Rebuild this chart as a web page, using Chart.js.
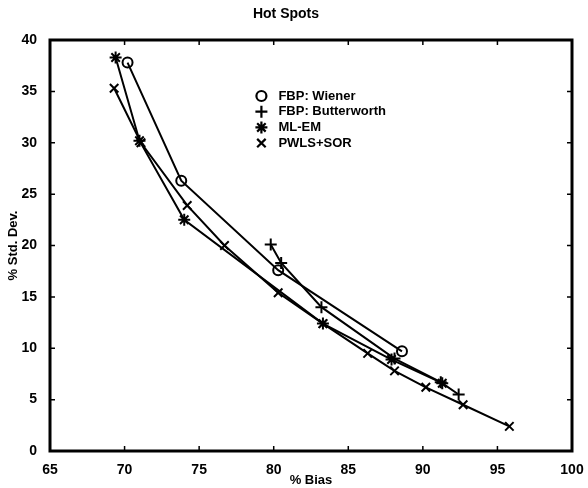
<!DOCTYPE html>
<html>
<head>
<meta charset="utf-8">
<script src="https://cdn.jsdelivr.net/npm/chart.js@4.4.0/dist/chart.umd.min.js"></script>
<style>
  html, body { margin: 0; padding: 0; background: #fff; }
  #wrap { width: 588px; height: 488px; }
</style>
</head>
<body>
<div id="wrap"><canvas id="chart" width="588" height="488"></canvas></div>
<script>
    // Values (x = % Bias, y = % Std. Dev.)
    const wienerBias = [70.2, 73.8, 80.3, 88.6];
    const wienerStd  = [37.8, 26.3, 17.6, 9.7];

    const butterBias = [79.8, 80.5, 83.2, 88.1, 91.2, 92.4];
    const butterStd  = [20.1, 18.3, 14.0, 9.0, 6.7, 5.5];

    const mlemBias = [69.4, 71.0, 74.0, 83.3, 87.9, 91.3];
    const mlemStd  = [38.3, 30.2, 22.5, 12.4, 8.9, 6.6];

    const pwlsBias = [69.3, 71.1, 74.2, 76.7, 80.3, 83.3, 86.3, 88.1, 90.2, 92.7, 95.8];
    const pwlsStd  = [35.3, 30.0, 23.9, 20.0, 15.4, 12.4, 9.5, 7.8, 6.2, 4.5, 2.4];

    const seriesLabels = ['FBP: Wiener', 'FBP: Butterworth', 'ML-EM', 'PWLS+SOR'];
    const pointStyles = ['circle', 'cross', 'star', 'crossRot'];

    const FONT = "'Liberation Sans', Arial, sans-serif";

    /**
     * Zips two arrays into {x, y} points.
     */
    function toPoints(xs, ys) {
        return xs.map((x, i) => ({ x: x, y: ys[i] }));
    }

    function makeDataset(label, xs, ys, style) {
        return {
            label: label,
            data: toPoints(xs, ys),
            showLine: true,
            borderColor: '#000',
            backgroundColor: 'rgba(0,0,0,0)',
            borderWidth: 2,
            pointStyle: style,
            pointRadius: style === 'circle' ? 5 : 6,
            pointBorderWidth: 2,
            pointBorderColor: '#000',
            pointBackgroundColor: 'rgba(0,0,0,0)',
            tension: 0
        };
    }

    // Frame with inward tick marks on all four sides (MATLAB style)
    const frameTicks = {
        id: 'frameTicks',
        afterDraw(chart) {
            const { ctx, chartArea: a, scales } = chart;
            const len = 5;
            ctx.save();
            ctx.strokeStyle = '#000';
            ctx.lineWidth = 1.5;
            scales.x.ticks.forEach(t => {
                const px = scales.x.getPixelForValue(t.value);
                ctx.beginPath();
                ctx.moveTo(px, a.bottom); ctx.lineTo(px, a.bottom - len);
                ctx.moveTo(px, a.top); ctx.lineTo(px, a.top + len);
                ctx.stroke();
            });
            scales.y.ticks.forEach(t => {
                const py = scales.y.getPixelForValue(t.value);
                ctx.beginPath();
                ctx.moveTo(a.left, py); ctx.lineTo(a.left + len, py);
                ctx.moveTo(a.right, py); ctx.lineTo(a.right - len, py);
                ctx.stroke();
            });
            ctx.lineWidth = 3;
            ctx.strokeRect(a.left, a.top, a.right - a.left, a.bottom - a.top);
            ctx.restore();
        }
    };

    // Marker-only legend drawn inside the plot area
    const innerLegend = {
        id: 'innerLegend',
        afterDraw(chart) {
            const { ctx, chartArea: a } = chart;
            const x0 = a.left + (a.right - a.left) * 0.405;
            const y0 = a.top + 56;
            const rowH = 15.7;
            ctx.save();
            ctx.textBaseline = 'middle';
            chart.data.datasets.forEach((ds, i) => {
                const y = y0 + i * rowH;
                ctx.strokeStyle = '#000';
                ctx.fillStyle = 'rgba(0,0,0,0)';
                ctx.lineWidth = 2.2;
                Chart.helpers.drawPoint(ctx, { pointStyle: ds.pointStyle, radius: ds.pointStyle === 'circle' ? 5 : 6, borderWidth: 2.2 }, x0, y);
                ctx.font = 'bold 13px ' + FONT;
                ctx.fillStyle = '#000';
                ctx.fillText(ds.label, x0 + 17, y);
            });
            ctx.restore();
        }
    };

    const datasets = [
        makeDataset(seriesLabels[0], wienerBias, wienerStd, pointStyles[0]),
        makeDataset(seriesLabels[1], butterBias, butterStd, pointStyles[1]),
        makeDataset(seriesLabels[2], mlemBias, mlemStd, pointStyles[2]),
        makeDataset(seriesLabels[3], pwlsBias, pwlsStd, pointStyles[3])
    ];

    new Chart(document.getElementById('chart').getContext('2d'), {
        type: 'scatter',
        data: { datasets: datasets },
        options: {
            responsive: false,
            animation: false,
            layout: { padding: { left: 0, right: 16, top: 0, bottom: 0 } },
            plugins: {
                legend: { display: false },
                tooltip: { enabled: false },
                title: {
                    display: true,
                    text: 'Hot Spots',
                    color: '#000',
                    font: { family: FONT, size: 14, weight: 'bold' },
                    padding: { top: 6, bottom: 17.2 }
                }
            },
            scales: {
                x: {
                    type: 'linear',
                    min: 65,
                    max: 100,
                    afterFit: scale => { scale.height = 37; },
                    ticks: {
                        stepSize: 5,
                        color: '#000',
                        padding: 3,
                        maxRotation: 0,
                        font: { family: FONT, size: 14, weight: 'bold' }
                    },
                    grid: { display: false },
                    border: { display: false },
                    title: {
                        display: true,
                        text: '% Bias',
                        color: '#000',
                        padding: { top: 2, bottom: 0 },
                        font: { family: FONT, size: 13, weight: 'bold' }
                    }
                },
                y: {
                    type: 'linear',
                    min: 0,
                    max: 40,
                    afterFit: scale => { scale.width = 50; },
                    ticks: {
                        stepSize: 5,
                        color: '#000',
                        padding: 5,
                        font: { family: FONT, size: 14, weight: 'bold' }
                    },
                    grid: { display: false },
                    border: { display: false },
                    title: {
                        display: true,
                        text: '% Std. Dev.',
                        color: '#000',
                        padding: { top: 6, bottom: 0 },
                        font: { family: FONT, size: 13, weight: 'bold' }
                    }
                }
            }
        },
        plugins: [frameTicks, innerLegend]
    });
</script>
</body>
</html>
